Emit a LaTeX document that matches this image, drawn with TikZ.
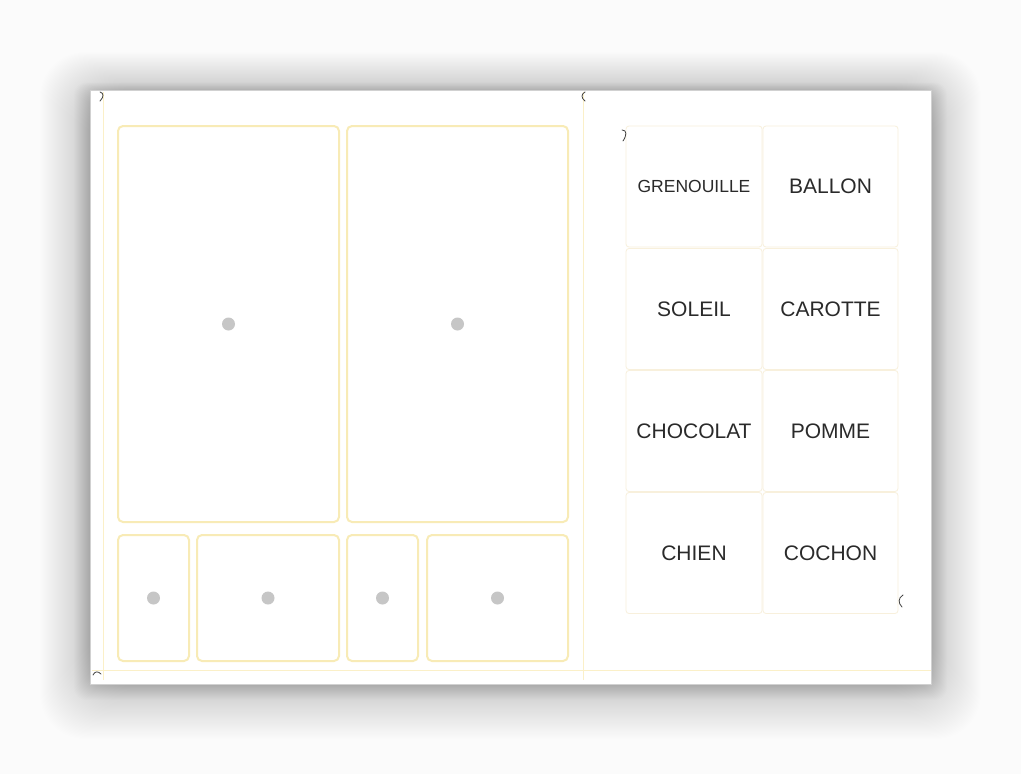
\documentclass[tikz,border=0pt]{standalone}
\usepackage{fontspec}
\setmainfont{Liberation Sans}
\definecolor{pagebg}{HTML}{FBFBFB}
\definecolor{frameyellow}{HTML}{F8EBB6}
\definecolor{guideyellow}{HTML}{FBF0C8}
\definecolor{cellline}{HTML}{F8F0DC}
\definecolor{dotgray}{HTML}{C6C6C6}
\definecolor{wordgray}{HTML}{2A2A2A}
\tikzset{
  frame/.style={rectangle, draw=frameyellow, line width=2pt, rounded corners=5pt},
  wordcell/.style={rectangle, draw=cellline, line width=0.8pt, rounded corners=3pt,
    minimum width=136pt, minimum height=121pt, text=wordgray, font=\fontsize{21}{21}\selectfont},
  guide/.style={draw=guideyellow, line width=0.8pt},
  dot/.style={circle, fill=dotgray, inner sep=0pt, minimum size=13pt},
  cutstroke/.style={draw=black!75, line width=0.8pt, line cap=round}
}
\begin{document}
\begin{tikzpicture}[x=1pt, y=-1pt]
  \useasboundingbox[fill=pagebg] (0,0) rectangle (1021,774);
  % shadow round the page
  \foreach \s in {1,...,50}
    \fill[black, opacity=0.0042, rounded corners=45pt] (90-\s, 92-0.8*\s) rectangle (931+\s, 684+1.1*\s);
  \foreach \s in {1,...,16}
    \fill[black, opacity=0.006, rounded corners=12pt] (90-\s, 92-0.6*\s) rectangle (931+\s, 684+\s);
  \node (page) [rectangle, fill=white, draw=black!18, line width=0.5pt, minimum width=841pt, minimum height=594pt, inner sep=0pt] at (510.5, 387) {};

  % guide lines
  \coordinate (gl top) at (103, 92);
  \coordinate (gl bot) at (103, 680);
  \coordinate (gm top) at (583, 92);
  \coordinate (gm bot) at (583, 680);
  \coordinate (gh left) at (92, 670);
  \coordinate (gh right) at (931, 670);
  \draw[guide] (gl top) -- (gl bot);
  \draw[guide] (gm top) -- (gm bot);
  \draw[guide] (gh left) -- (gh right);

  % picture frames
  \node (big left) [frame, minimum width=221pt, minimum height=396pt] at (228.5, 324) {};
  \node (big right) [frame, minimum width=221pt, minimum height=396pt] at (457.5, 324) {};
  \node (small a) [frame, minimum width=71pt, minimum height=126pt] at (153.5, 598) {};
  \node (wide a) [frame, minimum width=142pt, minimum height=126pt] at (268, 598) {};
  \node (small b) [frame, minimum width=71pt, minimum height=126pt] at (382.5, 598) {};
  \node (wide b) [frame, minimum width=141pt, minimum height=126pt] at (497.5, 598) {};
  \foreach \f in {big left, big right, small a, wide a, small b, wide b}
    \node [dot] at (\f.center) {};

  % word cards
  \node (grenouille) [wordcell, font=\fontsize{17.5}{18}\selectfont] at (694, 186.5) {GRENOUILLE};
  \node (ballon) [wordcell, minimum width=135pt] at (830.5, 186.5) {BALLON};
  \node (soleil) [wordcell] at (694, 309) {SOLEIL};
  \node (carotte) [wordcell, minimum width=135pt] at (830.5, 309) {CAROTTE};
  \node (chocolat) [wordcell] at (694, 431) {CHOCOLAT};
  \node (pomme) [wordcell, minimum width=135pt] at (830.5, 431) {POMME};
  \node (chien) [wordcell] at (694, 553) {CHIEN};
  \node (cochon) [wordcell, minimum width=135pt] at (830.5, 553) {COCHON};

  % cut marks
  \draw[cutstroke] (100,92) .. controls (104,93) and (104,97) .. (100,101);
  \draw[cutstroke] (585,92) .. controls (581,94) and (581,98) .. (585,101);
  \draw[cutstroke] (622,130) .. controls (627,130) and (627,135) .. (623,141);
  \draw[cutstroke] (903,595) .. controls (898,598) and (898,603) .. (902,607);
  \draw[cutstroke] (93,675) .. controls (95,671) and (98,671) .. (101,674);
\end{tikzpicture}
\end{document}
